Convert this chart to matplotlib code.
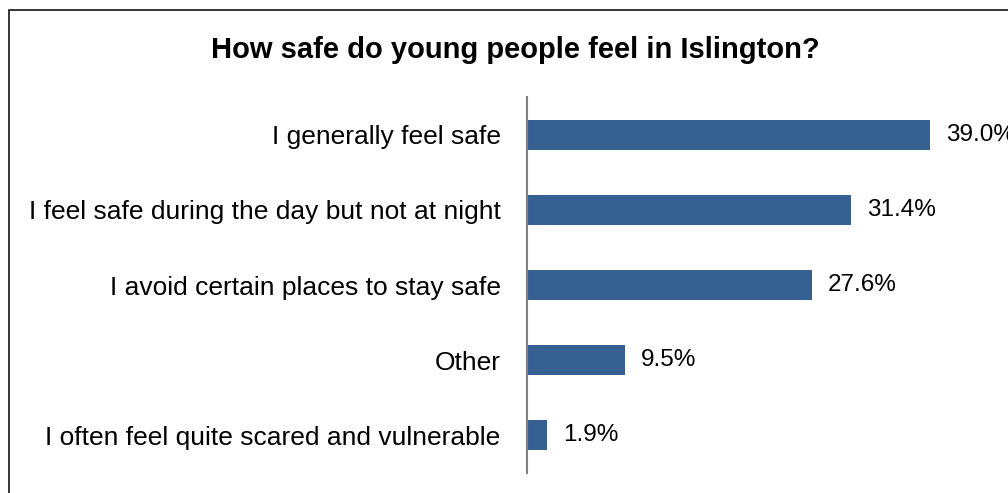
import matplotlib.pyplot as plt
from matplotlib.patches import Rectangle

plt.rcParams['font.family'] = ['Liberation Sans', 'DejaVu Sans']

# survey answers, top to bottom
answers = [
    "I generally feel safe",
    "I feel safe during the day but not at night",
    "I avoid certain places to stay safe",
    "Other",
    "I often feel quite scared and vulnerable",
]
percent = [39.0, 31.4, 27.6, 9.5, 1.9]

W, H = 1008, 493
fig = plt.figure(figsize=(W / 100, H / 100), dpi=100)

# outer frame, runs off the right and bottom edge
fig.patches.append(Rectangle((9 / W, -0.05), 1.1, (H - 10) / H + 0.05,
                             transform=fig.transFigure, fill=False,
                             edgecolor='black', linewidth=1.1))

ax = fig.add_axes([527 / W, (H - 473) / H, 465 / W, 376 / H])
pos = list(range(len(answers)))
ax.barh(pos, percent, height=0.4, color='#376092')
ax.set_ylim(len(answers) - 0.5, -0.5)
ax.set_xlim(0, 45)

for y, v in zip(pos, percent):
    ax.text(v + 1.55, y, f"{v:.1f}%", va='center', ha='left', fontsize=17.5)

ax.set_yticks(pos)
ax.set_yticklabels(answers, fontsize=19)
ax.tick_params(axis='y', length=0, pad=19)
ax.set_xticks([])
for s in ['top', 'right', 'bottom']:
    ax.spines[s].set_visible(False)
ax.spines['left'].set_color('#808080')
ax.spines['left'].set_linewidth(1.5)

fig.text(515 / W, (H - 50) / H, "How safe do young people feel in Islington?",
         ha='center', va='center', fontsize=21, fontweight='bold')

fig.savefig('out.png', dpi=100)
